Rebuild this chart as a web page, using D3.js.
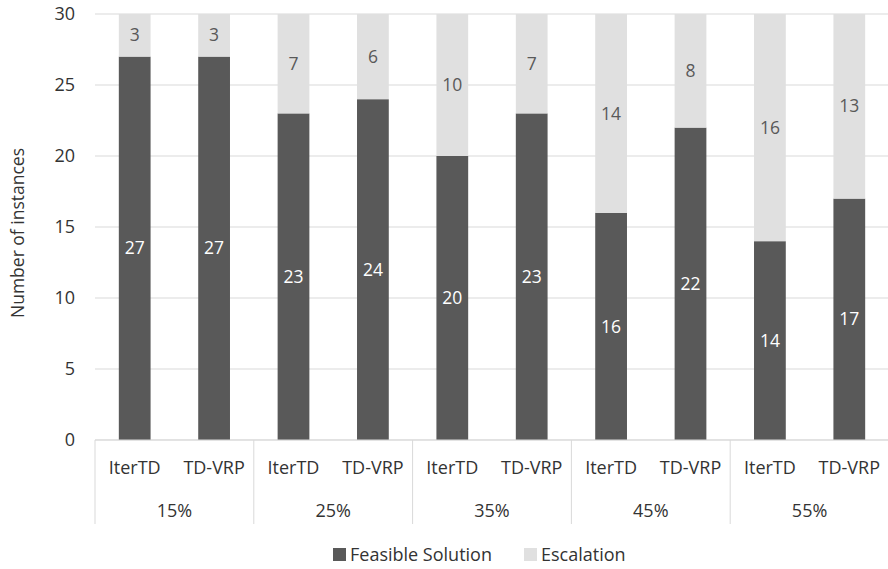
<!DOCTYPE html>
<html>
<head>
<meta charset="utf-8">
<script src="https://cdn.jsdelivr.net/npm/d3@7"></script>
<style>
  html, body { margin: 0; padding: 0; background: #fff; }
  svg { display: block; font-family: "Open Sans", "Noto Sans", sans-serif; }
</style>
</head>
<body>
<svg id="chart" width="888" height="569"></svg>
<script>
// Share of time-dependent instances, two methods per group
const groups = ["15%", "25%", "35%", "45%", "55%"];
const methods = ["IterTD", "TD-VRP"];
const feasible = [27, 27, 23, 24, 20, 23, 16, 22, 14, 17];
const escalation = [3, 3, 7, 6, 10, 7, 14, 8, 16, 13];
const yTicks = [0, 5, 10, 15, 20, 25, 30];
const seriesNames = ["Feasible Solution", "Escalation"];
const colors = ["#595959", "#e0e0e0"];

const svg = d3.select("#chart");
const margin = { left: 95, right: 889, top: 14, bottom: 440 };
const textColor = "#333333";

const bars = [];
groups.forEach((g, gi) => methods.forEach((m, mi) => {
  const i = gi * methods.length + mi;
  bars.push({ key: g + "|" + m, group: g, method: m, feasible: feasible[i], escalation: escalation[i] });
}));

const x = d3.scaleBand().domain(bars.map(d => d.key)).range([margin.left, margin.right]).paddingInner(0.6).paddingOuter(0.3);
const y = d3.scaleLinear().domain([0, 30]).range([margin.bottom, margin.top]);

// gridlines
svg.append("g").selectAll("line").data(yTicks).join("line")
  .attr("x1", margin.left).attr("x2", margin.right)
  .attr("y1", d => y(d)).attr("y2", d => y(d))
  .attr("stroke", "#d9d9d9").attr("stroke-width", 1);

// y tick labels
svg.append("g").selectAll("text").data(yTicks).join("text")
  .attr("x", 75).attr("y", d => y(d)).attr("dy", "0.35em")
  .attr("text-anchor", "end").attr("font-size", 18).attr("fill", textColor)
  .text(d => d);

// y axis title
svg.append("text")
  .attr("transform", `translate(18,233) rotate(-90)`)
  .attr("text-anchor", "middle").attr("dy", "0.35em").attr("font-size", 17.5).attr("fill", textColor)
  .text("Number of instances");

const stack = d3.stack().keys(["feasible", "escalation"]);
const stacked = stack(bars);

svg.append("g").selectAll("g").data(stacked).join("g")
  .attr("fill", (d, i) => colors[i])
  .selectAll("rect").data(d => d).join("rect")
  .attr("x", d => x(d.data.key))
  .attr("width", x.bandwidth())
  .attr("y", d => y(d[1]))
  .attr("height", d => y(d[0]) - y(d[1]));

// value labels
const labelColors = ["#ffffff", "#595959"];
stacked.forEach((s, si) => {
  svg.append("g").selectAll("text").data(s).join("text")
    .attr("x", d => x(d.data.key) + x.bandwidth() / 2)
    .attr("y", d => y((d[0] + d[1]) / 2))
    .attr("dy", "0.35em")
    .attr("text-anchor", "middle").attr("font-size", 17.5)
    .attr("fill", labelColors[si])
    .text(d => d[1] - d[0]);
});

// category axis
const groupWidth = (margin.right - margin.left) / groups.length;
svg.append("line")
  .attr("x1", margin.left).attr("x2", margin.right)
  .attr("y1", margin.bottom).attr("y2", margin.bottom)
  .attr("stroke", "#d9d9d9");
d3.range(groups.length + 1).forEach(i => {
  svg.append("line")
    .attr("x1", margin.left + i * groupWidth).attr("x2", margin.left + i * groupWidth)
    .attr("y1", margin.bottom).attr("y2", 524)
    .attr("stroke", "#d9d9d9");
});
svg.append("g").selectAll("text").data(bars).join("text")
  .attr("x", d => x(d.key) + x.bandwidth() / 2)
  .attr("y", 468).attr("dy", "0.35em")
  .attr("text-anchor", "middle").attr("font-size", 18).attr("fill", textColor)
  .text(d => d.method);
svg.append("g").selectAll("text").data(groups).join("text")
  .attr("x", (d, i) => margin.left + (i + 0.5) * groupWidth)
  .attr("y", 511).attr("dy", "0.35em")
  .attr("text-anchor", "middle").attr("font-size", 18).attr("fill", textColor)
  .text(d => d);

// legend
const legendX = [333, 524];
const legend = svg.append("g").selectAll("g").data(seriesNames).join("g")
  .attr("transform", (d, i) => `translate(${legendX[i]},555)`);
legend.append("rect").attr("x", 0).attr("y", -7).attr("width", 13).attr("height", 13)
  .attr("fill", (d, i) => colors[i]);
legend.append("text").attr("x", 17).attr("y", 0).attr("dy", "0.35em")
  .attr("font-size", 18).attr("fill", textColor).text(d => d);
</script>
</body>
</html>
